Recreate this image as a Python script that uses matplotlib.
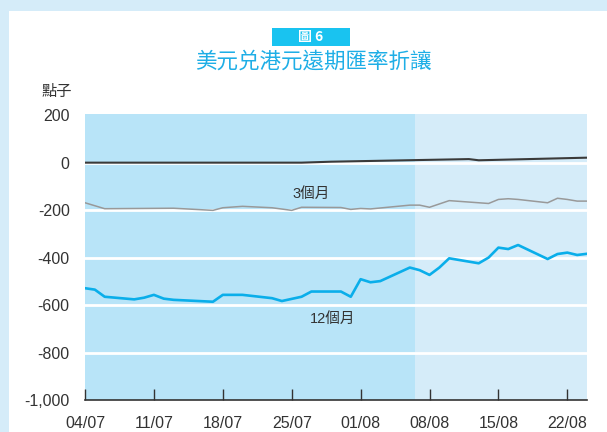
import matplotlib
matplotlib.use('Agg')
import matplotlib.pyplot as plt
import matplotlib.dates as mdates
from matplotlib.patches import Rectangle
import pandas as pd

# Data (basis points)
dates_12m = ['2022-07-04', '2022-07-05', '2022-07-06', '2022-07-09', '2022-07-10',
             '2022-07-11', '2022-07-12', '2022-07-13', '2022-07-17', '2022-07-18',
             '2022-07-20', '2022-07-23', '2022-07-24', '2022-07-26', '2022-07-27',
             '2022-07-30', '2022-07-31', '2022-08-01', '2022-08-02', '2022-08-03',
             '2022-08-06', '2022-08-07', '2022-08-08', '2022-08-09', '2022-08-10',
             '2022-08-13', '2022-08-14', '2022-08-15', '2022-08-16', '2022-08-17',
             '2022-08-20', '2022-08-21', '2022-08-22', '2022-08-23', '2022-08-24']
vals_12m = [-529, -535, -565, -576, -569, -557, -573, -578, -586, -557,
            -557, -571, -583, -565, -543, -543, -565, -491, -504, -499,
            -442, -453, -473, -442, -403, -424, -400, -358, -364, -347,
            -406, -385, -379, -389, -384]

dates_3m = ['2022-07-04', '2022-07-06', '2022-07-13', '2022-07-17', '2022-07-18',
            '2022-07-20', '2022-07-23', '2022-07-25', '2022-07-26', '2022-07-30',
            '2022-07-31', '2022-08-01', '2022-08-02', '2022-08-06', '2022-08-07',
            '2022-08-08', '2022-08-10', '2022-08-14', '2022-08-15', '2022-08-16',
            '2022-08-17', '2022-08-20', '2022-08-21', '2022-08-22', '2022-08-23',
            '2022-08-24']
vals_3m = [-169, -194, -192, -201, -190, -184, -190, -201, -188, -189,
           -197, -193, -195, -179, -179, -188, -160, -172, -155, -152,
           -155, -169, -150, -155, -162, -162]

dates_spot = ['2022-07-04', '2022-07-26', '2022-07-29', '2022-08-12', '2022-08-13', '2022-08-24']
vals_spot = [0, 0, 4, 15, 10, 21]

xtick_dates = ['2022-07-04', '2022-07-11', '2022-07-18', '2022-07-25',
               '2022-08-01', '2022-08-08', '2022-08-15', '2022-08-22']
yticks = [200, 0, -200, -400, -600, -800, -1000]
ytick_labels = ['200', '0', '-200', '-400', '-600', '-800', '-1,000']
shade_split = '2022-08-06 12:00'

# Colours
outer_bg = '#d5ecf9'
dark_bg = '#b8e4f8'
light_bg = '#d5ecf9'
blue = '#0aaeea'
txt = '#333333'

lat = ['Liberation Sans', 'Noto Sans CJK TC']
cjk = ['Noto Sans CJK TC', 'DejaVu Sans']

W, H = 607, 432
fig = plt.figure(figsize=(W / 100, H / 100), dpi=100, facecolor=outer_bg)
fig.patches.append(Rectangle((9 / W, 0), 1, 1 - 11 / H, transform=fig.transFigure,
                             facecolor='white', edgecolor='none', zorder=-10))

ax = fig.add_axes([85 / W, 1 - 400 / H, (587 - 85) / W, (400 - 114) / H])
ax.set_facecolor(light_bg)

d12 = pd.to_datetime(dates_12m)
d3 = pd.to_datetime(dates_3m)
ds = pd.to_datetime(dates_spot)
x0 = pd.Timestamp('2022-07-04')
x1 = pd.Timestamp('2022-08-24')

ax.axvspan(x0, pd.Timestamp(shade_split), color=dark_bg, lw=0, zorder=0)
for yv in [0, -200, -400, -600, -800]:
    ax.axhline(yv, color='white', lw=2, zorder=1)

ax.plot(d3, vals_3m, color='#999999', lw=1.1, zorder=3)
ax.plot(d12, vals_12m, color=blue, lw=1.9, zorder=3)
ax.plot(ds, vals_spot, color='#3a3a3a', lw=1.5, zorder=4)

ax.set_xlim(x0, x1)
ax.set_ylim(-1000, 205)

ax.set_xticks(pd.to_datetime(xtick_dates))
ax.xaxis.set_major_formatter(mdates.DateFormatter('%d/%m'))
ax.set_yticks(yticks)
ax.set_yticklabels(ytick_labels)

for s in ['top', 'right', 'left']:
    ax.spines[s].set_visible(False)
ax.spines['bottom'].set_color(txt)
ax.spines['bottom'].set_linewidth(1.2)
ax.tick_params(axis='x', direction='in', length=8, width=1, color=txt,
               pad=11.5, labelsize=11.5, labelcolor=txt)
ax.tick_params(axis='y', length=0, pad=11, labelsize=11.5, labelcolor=txt)
for lbl in ax.get_xticklabels() + ax.get_yticklabels():
    lbl.set_fontfamily(lat)

ax.text(pd.Timestamp('2022-07-25 02:00'), -132, '3個月', fontsize=10.5,
        family=lat, color=txt, ha='left', va='center')
ax.text(pd.Timestamp('2022-07-26 20:00'), -660, '12個月', fontsize=10.5,
        family=lat, color=txt, ha='left', va='center')

# Heading
fig.patches.append(Rectangle((272 / W, 1 - 46 / H), 78 / W, 18 / H,
                             transform=fig.transFigure, facecolor='#19c3f0',
                             edgecolor='none', zorder=1))
fig.text(311 / W, 1 - 37 / H, '圖 6', family=cjk, fontsize=10, weight='bold',
         color='white', ha='center', va='center', zorder=2)
fig.text(313 / W, 1 - 62 / H, '美元兑港元遠期匯率折讓', family=cjk, fontsize=15.5,
         color='#1eaee6', ha='center', va='center')
fig.text(42 / W, 1 - 91 / H, '點子', family=cjk, fontsize=11, color=txt,
         ha='left', va='center')

fig.savefig('out.png', dpi=100, facecolor=outer_bg)
